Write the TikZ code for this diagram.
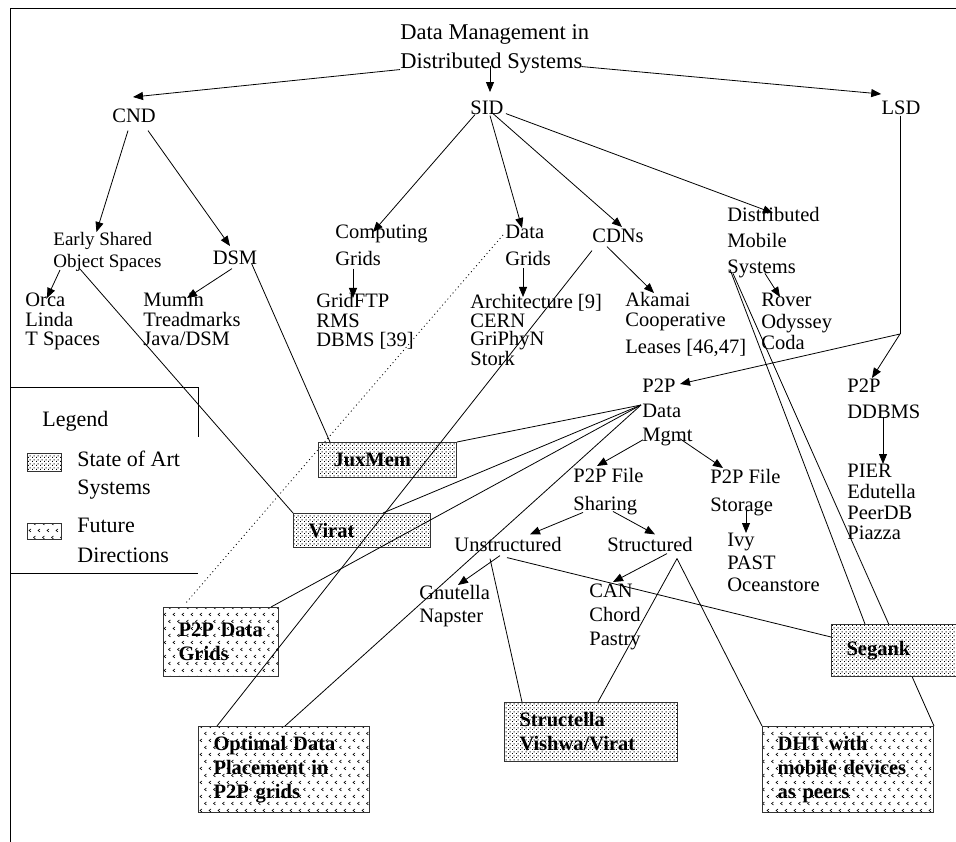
\documentclass[tikz,border=0pt]{standalone}
\usepackage{fontspec}
\setmainfont{Liberation Serif}
\usetikzlibrary{calc,arrows.meta,patterns}

\pgfdeclarepatternformonly{chevrons}{\pgfqpoint{-1pt}{-1pt}}{\pgfqpoint{10pt}{15pt}}{\pgfqpoint{9pt}{14pt}}{%
  \pgfsetlinewidth{0.6pt}%
  \pgfpathmoveto{\pgfqpoint{4pt}{5pt}}\pgfpathlineto{\pgfqpoint{2pt}{3.5pt}}\pgfpathlineto{\pgfqpoint{4pt}{2pt}}%
  \pgfpathmoveto{\pgfqpoint{8.5pt}{12pt}}\pgfpathlineto{\pgfqpoint{6.5pt}{10.5pt}}\pgfpathlineto{\pgfqpoint{8.5pt}{9pt}}%
  \pgfusepath{stroke}}
\pgfdeclarepatternformonly{finedots}{\pgfqpoint{0pt}{0pt}}{\pgfqpoint{4pt}{4pt}}{\pgfqpoint{4pt}{4pt}}{%
  \pgfpathrectangle{\pgfqpoint{0pt}{0pt}}{\pgfqpoint{1.2pt}{1.2pt}}%
  \pgfpathrectangle{\pgfqpoint{2pt}{2pt}}{\pgfqpoint{1.2pt}{1.2pt}}%
  \pgfusepath{fill}}

\begin{document}
\begin{tikzpicture}[x=1pt,y=-1pt,line width=0.8pt,>={Triangle[length=10pt,width=8pt]},
    lbl/.style={inner sep=0pt,anchor=north west,align=left,font=\fontsize{20.5}{#1}\selectfont},
    lbl/.default=20,
    word/.style={inner sep=0pt,anchor=base,font=\fontsize{20.5}{20}\selectfont},
    box/.style={draw=black!80,line width=1pt,anchor=north west,inner xsep=15pt,inner ysep=0pt,
      align=left,font=\bfseries\fontsize{20.5}{24}\selectfont},
    sota/.style={pattern=finedots},
    future/.style={pattern=chevrons}]

  \useasboundingbox (0,0) rectangle (956,842);
  \draw (970,8) -- (10,8) -- (10,850);

  \node[lbl,font=\fontsize{22.5}{29}\selectfont] (title) at (400,24) {Data Management in\\Distributed Systems};
  \node[word] (cnd) at (134,123) {CND};
  \node[word] (sid) at (487,115) {SID};
  \node[word] (lsd) at (901,115) {LSD};

  \node[lbl,font=\fontsize{19}{22}\selectfont] (esos) at (53,232) {Early Shared\\Object Spaces};
  \node[word] (dsm) at (235,265) {DSM};
  \node[lbl=19.5] (orca) at (25,293) {Orca\\Linda\\T Spaces};
  \node[lbl=19.5] (mumin) at (143,293) {Mumin\\Treadmarks\\Java/DSM};
  \node[lbl=27] (cgrids) at (335,225) {Computing\\Grids};
  \node[lbl=19.5] (gridftp) at (316,293) {GridFTP\\RMS\\DBMS [39]};
  \node[lbl=27] (dgrids) at (505,225) {Data\\Grids};
  \node[lbl=18.5] (arch) at (470,294) {Architecture [9]\\CERN\\GriPhyN\\Stork};
  \node[word] (cdns) at (618,243) {CDNs};
  \node[lbl=20] (akamai) at (625,292) {Akamai\\Cooperative\\[7pt]Leases [46,47]};
  \node[lbl=26] (dms) at (727,207) {Distributed\\Mobile\\Systems};
  \node[lbl=21.5] (rover) at (761,293) {Rover\\Odyssey\\Coda};

  \node[lbl=24.5] (p2pdm) at (642,379) {P2P\\Data\\Mgmt};
  \node[lbl=26] (ddbms) at (847,379) {P2P\\DDBMS};
  \node[lbl=20.7] (pier) at (847,464) {PIER\\Edutella\\PeerDB\\Piazza};
  \node[lbl=28] (fshare) at (573,468) {P2P File\\Sharing};
  \node[lbl=28] (fstore) at (710,469) {P2P File\\Storage};
  \node[lbl=22.5] (ivy) at (727,533) {Ivy\\PAST\\Oceanstore};
  \node[word] (unstr) at (508,551) {Unstructured};
  \node[word] (str) at (650,551) {Structured};
  \node[lbl=23] (gnut) at (419,585) {Gnutella\\Napster};
  \node[lbl=24] (can) at (589,584) {CAN\\Chord\\Pastry};

  \node[box,sota,text width=108,minimum height=35] (juxmem) at (318,442) {JuxMem};
  \node[box,sota,text width=107,minimum height=34] (virat) at (293,513) {\raisebox{-4pt}{Virat}};
  \node[box,future,text width=85,minimum height=69] (p2pdg) at (163,607) {P2P Data\\Grids};
  \node[box,future,text width=141,minimum height=86] (optimal) at (198,726) {Optimal Data\\Placement in\\P2P grids};
  \node[box,sota,text width=143,minimum height=59] (structella) at (504,702) {Structella\\Vishwa/Virat};
  \node[box,future,text width=141,minimum height=86] (dht) at (762,726) {DHT with\\mobile devices\\as peers};

  % legend
  \draw (10,387) -- (198,387) -- (198,437);
  \draw (10,573) -- (198,573);
  \node[lbl,font=\fontsize{22}{28}\selectfont] (legend) at (42,411) {Legend};
  \draw[draw=black!80,line width=1pt,sota] (27,453) rectangle (61,471);
  \node[lbl,font=\fontsize{22}{28}\selectfont] (sotatxt) at (77,451) {State of Art\\Systems};
  \draw[draw=black!80,line width=1pt,future] (27,523) rectangle (61,539);
  \node[lbl,font=\fontsize{22}{30}\selectfont] (futtxt) at (77,518) {Future\\Directions};

  \draw[->] ($(title.south west)+(0,-4)$) -- ($(cnd.north)+(-1,-12)$);
  \draw[->] ($(title.south -| sid.north)+(3,-8)$) -- ($(sid.north)+(3,-9)$);
  \draw[->] ($(title.south east)+(-8,-7)$) -- ($(lsd.north west)+(0,-7)$);

  \draw[->] ($(cnd.south)+(-6,7)$) -- ($(esos.north)+(-11,0)$);
  \draw[->] ($(cnd.south)+(14,7)$) -- ($(dsm.north)+(-5,-5)$);
  \draw[->] ($(sid.south)+(-12,-1)$) -- ($(cgrids.north west)+(38,7)$);
  \draw[->] ($(sid.south)+(3,0)$) -- ($(dgrids.north west)+(17,3)$);
  \draw[->] ($(sid.south)+(6,-2)$) -- ($(cdns.north)+(4,-2)$);
  \draw[->] ($(sid.south east)+(2,-2)$) -- ($(dms.north west)+(46,6)$);

  \draw[->] ($(esos.south west)+(7,-2)$) -- ($(orca.north west)+(22,5)$);
  \draw[->] ($(dsm.south)+(-3,3)$) -- ($(mumin.north west)+(44,5)$);
  \draw[->] ($(cgrids.south west)+(18,2)$) -- ($(gridftp.north west)+(37,5)$);
  \draw[->] ($(dgrids.south west)+(18,2)$) -- ($(arch.north west)+(53,3)$);
  \draw[->] ($(cdns.south west)+(15,3)$) -- ($(akamai.north west)+(29,1)$);
  \draw[->] ($(dms.south west)+(38,-5)$) -- ($(rover.north west)+(19,4)$);

  \coordinate (lsdbend) at (900,334);
  \draw (lsd.south -| lsdbend) -- (lsdbend);
  \draw[->] (lsdbend) -- ($(p2pdm.north west)+(38,5)$);
  \draw[->] (lsdbend) -- ($(ddbms.north west)+(25,-1)$);
  \draw[->] ($(ddbms.south west)+(36,-3)$) -- ($(pier.north west)+(36,0)$);

  \draw[->] ($(p2pdm.south west)+(1,-7)$) -- ($(fshare.north west)+(24,-2)$);
  \draw[->] ($(p2pdm.south west)+(38,-8)$) -- ($(fstore.north west)+(13,-1)$);
  \draw[->] ($(fstore.south west)+(36,-5)$) -- ($(ivy.north west)+(19,0)$);
  \draw[->] ($(fshare.south west)+(10,-3)$) -- ($(unstr.north)+(22,-2)$);
  \draw[->] ($(fshare.south west)+(40,-4)$) -- ($(str.north)+(5,-2)$);
  \draw[->] ($(unstr.south)+(-8,4)$) -- ($(gnut.north west)+(39,0)$);
  \draw[->] ($(str.south)+(17,2)$) -- ($(can.north west)+(24,-2)$);

  \draw ($(dms.south west)+(6,-5)$) -- (dht.north east);
  \node[box,sota,preaction={fill=white},text width=110,minimum height=52] (segank) at (831,624) {Segank};

  \draw ($(dsm.south east)+(-6,-2)$) -- ($(juxmem.north west)+(12,0)$);
  \draw ($(esos.south west)+(27,-3)$) -- (virat.north west);
  \draw[dash pattern=on 1pt off 3pt] ($(dgrids.north west)+(-2,10)$) -- ($(p2pdg.north west)+(22,-3)$);
  \draw ($(cdns.south west)+(0,7)$) -- ($(optimal.north west)+(19,0)$);
  \coordinate (mgmt) at ($(p2pdm.north west)+(-1,26)$);
  \draw (mgmt) -- (juxmem.north east);
  \draw (mgmt) -- ($(virat.north west)+(90,0)$);
  \draw (mgmt) -- ($(p2pdg.north east)+(-8,0)$);
  \draw (mgmt) -- ($(optimal.north west)+(87,0)$);
  \draw ($(unstr.south)+(-1,6)$) -- ($(segank.north west)+(0,13)$);
  \draw ($(unstr.south)+(-18,7)$) -- ($(structella.north west)+(18,0)$);
  \coordinate (strfoot) at ($(str.south)+(27,7)$);
  \draw (strfoot) -- ($(structella.north west)+(94,0)$);
  \draw (strfoot) -- (dht.north west);
  \draw ($(dms.south west)+(3,-9)$) -- ($(segank.north west)+(34,0)$);
\end{tikzpicture}
\end{document}
